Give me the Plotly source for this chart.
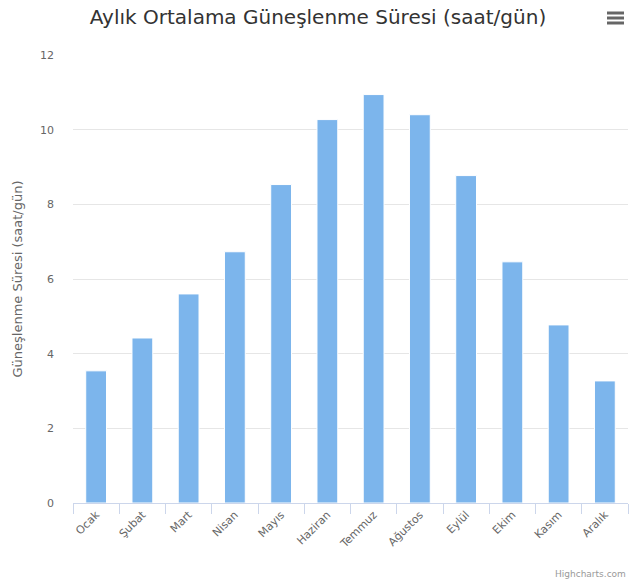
import plotly.graph_objects as go

months = ["Ocak", "Şubat", "Mart", "Nisan", "Mayıs", "Haziran",
          "Temmuz", "Ağustos", "Eylül", "Ekim", "Kasım", "Aralık"]
sunshine_hours = [3.54, 4.42, 5.6, 6.73, 8.53, 10.27, 10.94, 10.4, 8.77, 6.46, 4.77, 3.27]
y_ticks = [0, 2, 4, 6, 8, 10, 12]

W, H = 637, 584
ML, MR, MT, MB = 73, 9, 55, 81
PW, PH = W - ML - MR, H - MT - MB

def px(x):
    return (x - ML) / PW

def py(y):
    return (H - MB - y) / PH

fig = go.Figure()
fig.add_trace(go.Bar(
    x=months, y=sunshine_hours,
    marker=dict(color="#7cb5ec", line=dict(color="#ffffff", width=1)),
    hoverinfo="x+y",
))

shapes = []
for yy in (13, 18, 23):
    shapes.append(dict(type="line", xref="paper", yref="paper",
                       x0=px(607), x1=px(624), y0=py(yy), y1=py(yy),
                       line=dict(color="#666666", width=3)))

fig.update_layout(
    width=W, height=H,
    margin=dict(l=ML, r=MR, t=MT, b=MB, pad=0, autoexpand=False),
    paper_bgcolor="#ffffff", plot_bgcolor="#ffffff",
    font=dict(family="DejaVu Sans", color="#666666", size=11),
    showlegend=False,
    bargap=0.55,
    title=dict(text="Aylık Ortalama Güneşlenme Süresi (saat/gün)",
               x=318 / W, xref="container", xanchor="center",
               y=1 - 17 / H, yanchor="middle", yref="container",
               font=dict(family="DejaVu Sans", size=20, color="#333333")),
    xaxis=dict(
        type="category", tickangle=-45, automargin=False,
        showline=True, linecolor="#ccd6eb", linewidth=1,
        ticks="outside", tickson="boundaries", ticklen=10, tickcolor="#ccd6eb",
        showgrid=False, tickfont=dict(size=11, color="#666666"),
    ),
    yaxis=dict(
        range=[0, 12], tickvals=y_ticks, showgrid=True, gridcolor="#e6e6e6",
        zeroline=False, showline=False, ticks="", ticklabelstandoff=18,
        automargin=False,
        tickfont=dict(size=11, color="#666666"),
        title=dict(text="Güneşlenme Süresi (saat/gün)", standoff=14,
                   font=dict(size=13, color="#666666")),
    ),
    shapes=shapes,
    annotations=[dict(text="Highcharts.com", xref="paper", yref="paper",
                      x=px(628), y=py(574), xanchor="right", yanchor="middle",
                      showarrow=False, font=dict(size=9, color="#999999"))],
)

fig.write_html("out.html", config={"displayModeBar": False},
               post_script="document.body.style.margin='0';")
